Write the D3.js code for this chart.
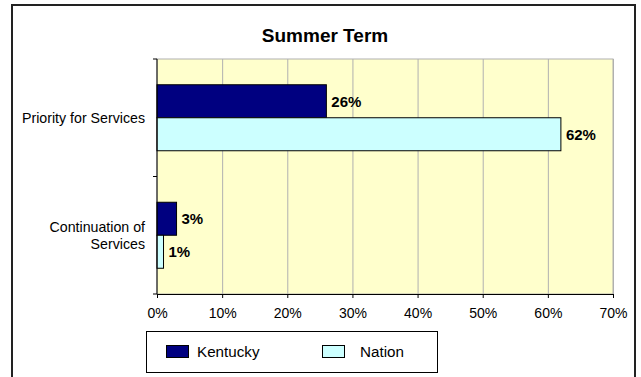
<!DOCTYPE html>
<html>
<head>
<meta charset="utf-8">
<script src="https://cdn.jsdelivr.net/npm/d3@7"></script>
<style>
  html, body { margin: 0; padding: 0; background: #fff; }
  svg { display: block; font-family: "Liberation Sans", Arial, sans-serif; }
</style>
</head>
<body>
<svg id="chart" width="641" height="377"></svg>
<script>
const title = "Summer Term";
const categories = ["Priority for Services", "Continuation of Services"];
const categoryLines = [["Priority for Services"], ["Continuation of", "Services"]];
const seriesNames = ["Kentucky", "Nation"];
const kentucky = [0.26, 0.03];
const nation = [0.62, 0.01];
const xTicks = [0, 0.1, 0.2, 0.3, 0.4, 0.5, 0.6, 0.7];
const colors = ["#000080", "#CCFFFF"];

const svg = d3.select("#chart");
const pL = 157, pR = 613, pT = 59, pB = 294;

// outer frame
svg.append("rect").attr("x", 12).attr("y", 5).attr("width", 623).attr("height", 390)
  .attr("fill", "#fff").attr("stroke", "#222").attr("stroke-width", 2);

// title
svg.append("text").attr("x", 325).attr("y", 42).attr("text-anchor", "middle")
  .attr("font-weight", "bold").attr("font-size", 19).text(title);

const x = d3.scaleLinear().domain([0, 0.7]).range([pL, pR]);
const y = d3.scaleBand().domain(categories).range([pT, pB]);
const inner = d3.scaleBand().domain(seriesNames).range([25.75, y.bandwidth() - 25.75]);

// plot background
svg.append("rect").attr("x", pL).attr("y", pT).attr("width", pR - pL).attr("height", pB - pT)
  .attr("fill", "#FFFFCC").attr("stroke", "#b0b0b0").attr("stroke-width", 1);

// gridlines
svg.append("g").selectAll("line").data(xTicks.slice(1)).join("line")
  .attr("x1", d => x(d) + 0.5).attr("x2", d => x(d) + 0.5)
  .attr("y1", pT).attr("y2", pB)
  .attr("stroke", "#b0b0b0").attr("stroke-width", 1);

// bars
const rows = categories.map((c, i) => ({ c, vals: [kentucky[i], nation[i]] }));
const groups = svg.append("g").selectAll("g").data(rows).join("g")
  .attr("transform", d => `translate(0,${y(d.c)})`);
groups.selectAll("rect").data(d => d.vals.map((v, j) => ({ v, s: seriesNames[j], j }))).join("rect")
  .attr("x", x(0)).attr("y", d => inner(d.s))
  .attr("width", d => x(d.v) - x(0)).attr("height", inner.bandwidth())
  .attr("fill", d => colors[d.j]).attr("stroke", "#000").attr("stroke-width", 1);
groups.selectAll("text").data(d => d.vals.map((v, j) => ({ v, s: seriesNames[j], j }))).join("text")
  .attr("x", d => x(d.v) + 5).attr("y", d => inner(d.s) + inner.bandwidth() / 2)
  .attr("dy", "0.36em").attr("font-weight", "bold").attr("font-size", 15)
  .text(d => d3.format(".0%")(d.v));

// x axis
const xAxis = svg.append("g").attr("transform", `translate(0,${pB})`)
  .call(d3.axisBottom(x).tickValues(xTicks).tickFormat(d3.format(".0%")).tickSize(4).tickPadding(10));
xAxis.select(".domain").attr("stroke", "#000");
xAxis.selectAll("text").attr("font-size", 14).attr("font-family", "Liberation Sans, Arial, sans-serif").attr("fill", "#000");

// y axis line and ticks at band boundaries
const yBounds = [pT, ...categories.map(c => y(c) + y.bandwidth())];
svg.append("line").attr("x1", pL).attr("x2", pL).attr("y1", pT).attr("y2", pB)
  .attr("stroke", "#000").attr("stroke-width", 1);
svg.append("g").selectAll("line").data(yBounds).join("line")
  .attr("x1", pL - 4).attr("x2", pL).attr("y1", d => d).attr("y2", d => d)
  .attr("stroke", "#000");

// category labels
categories.forEach((c, i) => {
  const lines = categoryLines[i];
  const cy = y(c) + y.bandwidth() / 2;
  const lh = 17;
  lines.forEach((ln, k) => {
    svg.append("text").attr("x", 145).attr("y", cy + (k - (lines.length - 1) / 2) * lh)
      .attr("dy", "0.36em").attr("text-anchor", "end").attr("font-size", 14.2).text(ln);
  });
});

// legend
const lg = svg.append("g");
lg.append("rect").attr("x", 146.5).attr("y", 331.5).attr("width", 291).attr("height", 41)
  .attr("fill", "#fff").attr("stroke", "#000").attr("stroke-width", 1);
const legX = [166, 322];
seriesNames.forEach((s, i) => {
  lg.append("rect").attr("x", legX[i] + 0.5).attr("y", 345.5).attr("width", 22).attr("height", 12)
    .attr("fill", colors[i]).attr("stroke", "#000");
  lg.append("text").attr("x", legX[i] + (i === 0 ? 31 : 38)).attr("y", 352).attr("dy", "0.36em")
    .attr("font-size", 15.2).text(s);
});
</script>
</body>
</html>
